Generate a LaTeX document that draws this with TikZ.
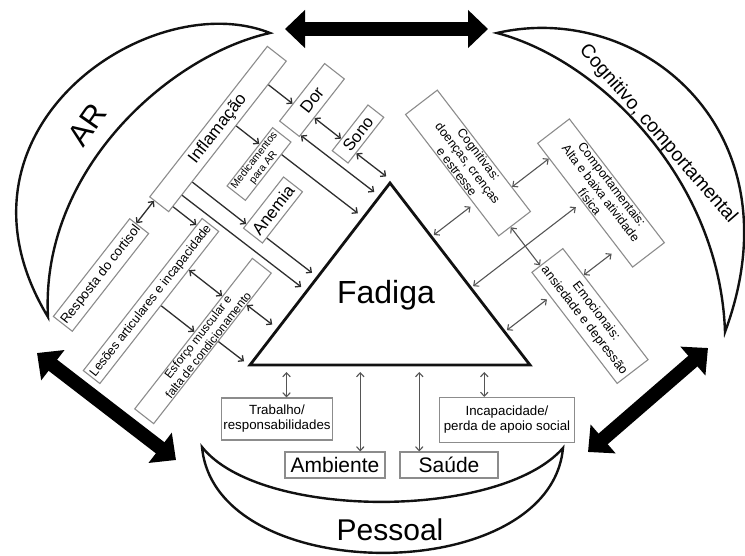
\documentclass[tikz,border=0pt]{standalone}
\usepackage{fontspec}
\setmainfont{Liberation Sans}
\usetikzlibrary{arrows.meta, calc}
\definecolor{cline}{HTML}{111111}
\definecolor{cbox}{HTML}{8C8C8C}
\definecolor{carrow}{HTML}{2E2E2E}
\definecolor{cgrey}{HTML}{555555}
\tikzset{
  box/.style={draw=cbox, line width=1.1pt, fill=white, inner sep=1pt, align=center, font=\fontsize{13.3}{15}\selectfont},
  lbox/.style={box, rotate=52},
  rbox/.style={box, rotate=-52.5},
  arr/.style={-{Straight Barb[length=4pt, width=7.5pt]}, draw=carrow, line width=1.3pt},
  darr/.style={arr, {Straight Barb[length=4pt, width=7.5pt]}-{Straight Barb[length=4pt, width=7.5pt]}},
  rarr/.style={darr, draw=cgrey, line width=1.1pt},
  lens/.style={draw=cline, line width=2.4pt},
  bigarrow/.style={draw=black, line width=14pt, {Triangle[length=20pt, width=37pt]}-{Triangle[length=20pt, width=37pt]}},
}

\begin{document}
\begin{tikzpicture}[x=1pt, y=-1pt,
  big/.style={font=\fontsize{#1}{#1}\selectfont}]
  \useasboundingbox (0,0) rectangle (745,555);
  % arrow from a point on one side to the foot on another side: \conn[style]{a}{t}{b}{c}{d}
  \newcommand{\conn}[6][arr]{%
    \path ($(#2)!#3!(#4)$) coordinate (lk);
    \draw[#1] (lk) -- ($(#5)!(lk)!(#6)$);}

  % three lenses
  \draw[lens] (270,33) .. controls (150,-15) and (-65,130) .. (48,317)
    .. controls (40,170) and (170,55) .. (270,33) -- cycle;
  \draw[lens] (497,33) .. controls (640,0) and (800,130) .. (725,332)
    .. controls (720,180) and (600,60) .. (497,33) -- cycle;
  \draw[lens] (202,447) .. controls (215,588) and (550,588) .. (563,448)
    .. controls (500,520) and (260,520) .. (202,447) -- cycle;
  \node[big=31, rotate=55] (ar) at (87,125) {AR};
  \node[big=19.3, rotate=-49] (cog-lab) at (658,134) {Cognitivo, comportamental};
  \node[big=30, anchor=base] (pes) at (390,540) {Pessoal};

  % big arrows between the lenses
  \coordinate (top1) at (285,29);  \coordinate (top2) at (488,29);
  \coordinate (lft1) at (37,353);  \coordinate (lft2) at (176,460);
  \coordinate (rgt1) at (708,348); \coordinate (rgt2) at (588,452);
  \draw[bigarrow] (top1) -- (top2);
  \draw[bigarrow] (lft1) -- (lft2);
  \draw[bigarrow] (rgt1) -- (rgt2);

  % triangle
  \coordinate (tl) at (250,365); \coordinate (tt) at (390,183); \coordinate (tr) at (530,365);
  \draw[draw=cline, line width=2.8pt, line join=miter] (tl) -- (tt) -- (tr) -- cycle;
  \node[big=32, anchor=base] (fad) at (386,303) {Fadiga};

  % AR side
  \node[lbox, minimum width=191pt, minimum height=24pt, big=17] (inf) at (218,129) {Inflamação};
  \node[lbox, minimum width=124pt, minimum height=24pt] (resp) at (101,275) {Resposta do cortisol};
  \node[lbox, minimum width=73pt, minimum height=25pt, big=17] (dor) at (312,100) {Dor};
  \node[lbox, minimum width=74pt, minimum height=22pt, font=\fontsize{10.5}{11.5}\selectfont] (med) at (259,164) {Medicamentos\\para AR};
  \node[lbox, minimum width=193pt, minimum height=21pt, big=12.5] (les) at (151,301) {Lesões articulares e incapacidade};
  \node[lbox, minimum width=58pt, minimum height=20pt, big=16.5] (sono) at (358,134) {Sono};
  \node[lbox, minimum width=65pt, minimum height=24pt, big=17] (anem) at (273,210) {Anemia};
  \node[lbox, minimum width=191pt, minimum height=24pt, font=\fontsize{11.8}{13}\selectfont] (esf) at (203,341) {Esforço muscular e\\falta de condicionamento};

  \conn{inf.south west}{.843}{inf.south east}{dor.north west}{dor.north east}
  \conn{inf.south west}{.571}{inf.south east}{med.north west}{med.north east}
  \conn{inf.south west}{.2}{inf.south east}{anem.north west}{anem.north east}
  \conn{inf.south west}{.037}{inf.south east}{les.north west}{les.north east}
  \conn[arr, shorten >=7pt]{inf.south west}{.113}{inf.south east}{tl}{tt}
  \conn[darr]{inf.south west}{.75}{inf.north west}{resp.south east}{resp.north east}
  \conn[darr]{dor.south west}{.33}{dor.south east}{sono.north west}{sono.north east}
  \conn[darr, shorten >=7pt]{dor.south west}{.03}{dor.south east}{tl}{tt}
  \conn[darr, shorten >=7pt]{sono.south west}{.224}{sono.south east}{tl}{tt}
  \conn[arr, shorten >=7pt]{med.south west}{.784}{med.south east}{tl}{tt}
  \conn[arr, shorten >=7pt]{anem.south west}{.108}{anem.south east}{tl}{tt}
  \conn[darr]{les.south west}{.746}{les.south east}{esf.north west}{esf.north east}
  \conn{les.south west}{.513}{les.south east}{esf.north west}{esf.north east}
  \conn[darr, shorten >=7pt]{esf.south west}{.788}{esf.south east}{tl}{tt}
  \conn[arr, shorten >=7pt]{esf.south west}{.547}{esf.south east}{tl}{tt}

  % cognitive side
  \node[rbox, minimum width=153pt, minimum height=40pt, font=\fontsize{12.5}{14}\selectfont] (cog) at (468,163) {Cognitivas:\\doenças, crenças\\e estresse};
  \node[rbox, minimum width=156pt, minimum height=40pt, font=\fontsize{12.5}{14}\selectfont] (comp) at (601,193) {Comportamentais:\\Alta e baixa atividade\\física};
  \node[rbox, minimum width=140pt, minimum height=39pt, font=\fontsize{12.8}{15}\selectfont] (emoc) at (590,316) {Emocionais:\\ansiedade e depressão};

  \conn[rarr, shorten <=4pt, shorten >=3pt]{cog.south west}{.735}{cog.south east}{tt}{tr}
  \conn[rarr]{cog.north west}{.797}{cog.north east}{comp.south west}{comp.south east}
  \conn[rarr]{cog.south east}{.375}{cog.north east}{emoc.south west}{emoc.north west}
  \conn[rarr, shorten <=8pt, shorten >=3pt]{comp.south west}{.474}{comp.south east}{tt}{tr}
  \conn[rarr, shorten >=8pt]{emoc.north west}{.243}{emoc.north east}{comp.south west}{comp.south east}
  \conn[rarr, shorten <=4pt, shorten >=3pt]{emoc.south west}{.221}{emoc.south east}{tt}{tr}

  % personal side
  \node[box, minimum width=111pt, minimum height=42pt] (trab) at (277,419) {Trabalho/\\responsabilidades};
  \node[box, minimum width=100pt, minimum height=26pt, big=21] (amb) at (335,465) {Ambiente};
  \node[box, minimum width=98pt, minimum height=26pt, big=21] (sau) at (449,465) {Saúde};
  \node[box, minimum width=135pt, minimum height=45pt] (inc) at (507,420) {Incapacidade/\\perda de apoio social};

  \conn[rarr, shorten >=7pt]{trab.north west}{.585}{trab.north east}{tl}{tr}
  \conn[rarr, shorten >=7pt]{amb.north west}{.75}{amb.north east}{tl}{tr}
  \conn[rarr, shorten >=7pt]{sau.north west}{.2}{sau.north east}{tl}{tr}
  \conn[rarr, shorten >=7pt]{inc.north west}{.333}{inc.north east}{tl}{tr}
\end{tikzpicture}
\end{document}
